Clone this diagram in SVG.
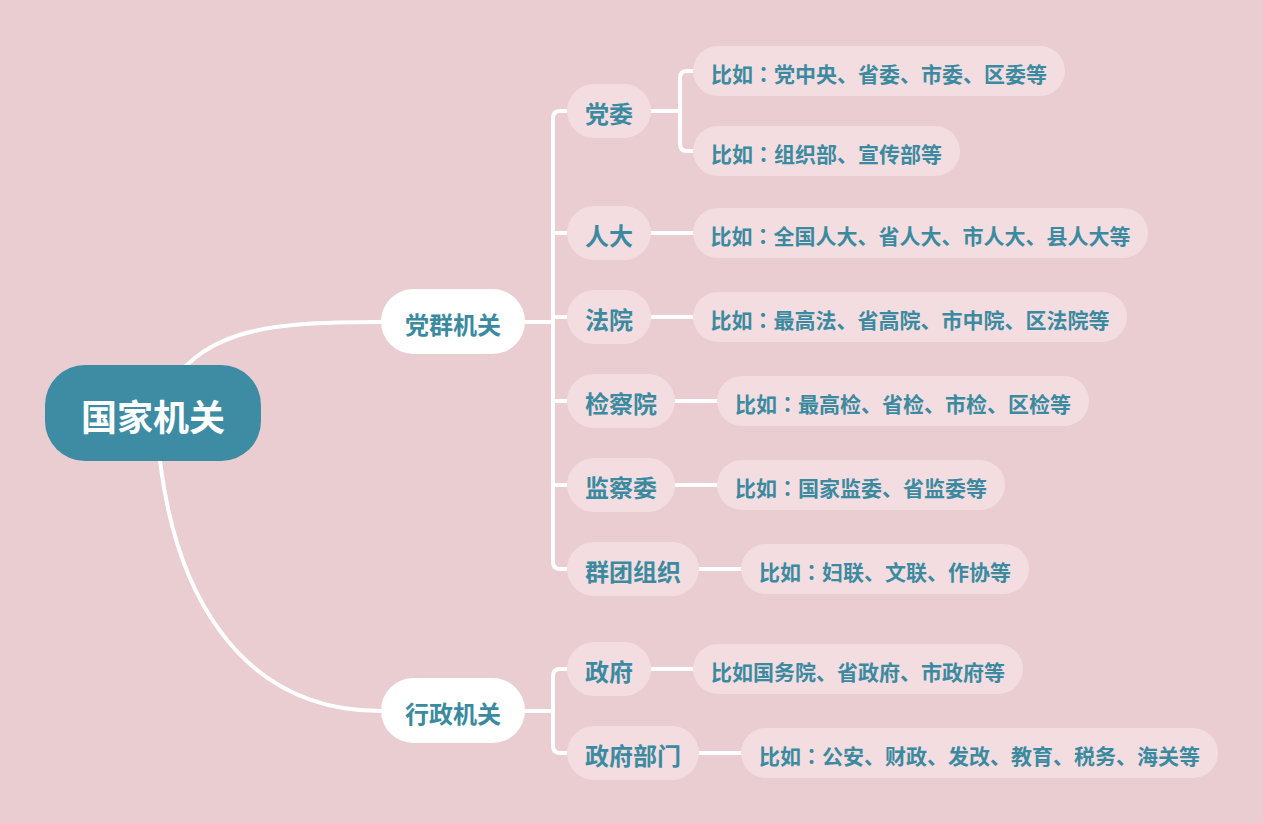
<svg xmlns="http://www.w3.org/2000/svg" width="1263" height="823" viewBox="0 0 1263 823">
<style>
text{font-family:"Noto Sans CJK SC","Noto Sans",sans-serif;font-weight:bold;text-anchor:middle;fill:#3b8aa0}
.p{font-family:"Noto Sans CJK JP","Noto Sans CJK SC",sans-serif}
.root{fill:#3d8ca3}
.rt{fill:#ffffff;font-size:36px}
.l1{fill:#ffffff}
.l1t{font-size:24px}
.l2{fill:#f4dde1}
.l2t{font-size:24px}
.lf{fill:#f4dde1}
.lft{font-size:21px}
.c{fill:none;stroke:#ffffff;stroke-width:4}
</style>
<rect width="1263" height="823" fill="#e9cdd1"/>
<g id="connectors">
<path class="c" d="M160,400 C200,330 260,322 381,322"/>
<path class="c" d="M156,413 C165,600 245,711 381,711"/>
<path class="c" d="M525,322 H553"/>
<path class="c" d="M567,111 H560 Q553,111 553,118 V562 Q553,569 560,569 H567"/>
<path class="c" d="M553,233 H567 M553,317 H567 M553,401 H567 M553,485 H567"/>
<path class="c" d="M525,711 H553"/>
<path class="c" d="M567,669 H560 Q553,669 553,676 V746 Q553,753 560,753 H567"/>
<path class="c" d="M651,111 H680"/>
<path class="c" d="M693,71 H687 Q680,71 680,78 V144 Q680,151 687,151 H693"/>
<path class="c" d="M651,233 H693 M651,317 H693 M675,401 H717 M675,485 H717 M699,569 H741 M651,669 H693 M699,753 H741"/>
</g>
<g id="root"><rect class="root" x="45" y="365" width="216" height="96" rx="40"/><text class="rt" x="153" y="431">国家机关</text></g>
<g id="dangqun"><rect class="l1" x="381" y="289" width="144" height="65" rx="32.5"/><text class="l1t" x="453" y="334">党群机关</text></g>
<g id="xingzheng"><rect class="l1" x="381" y="678" width="144" height="65" rx="32.5"/><text class="l1t" x="453" y="723">行政机关</text></g>
<g id="dangwei"><rect class="l2" x="567" y="84" width="84" height="54" rx="27"/><text class="l2t" x="609" y="123">党委</text></g>
<g id="renda"><rect class="l2" x="567" y="206" width="84" height="54" rx="27"/><text class="l2t" x="609" y="245">人大</text></g>
<g id="fayuan"><rect class="l2" x="567" y="290" width="84" height="54" rx="27"/><text class="l2t" x="609" y="329">法院</text></g>
<g id="jianchayuan"><rect class="l2" x="567" y="374" width="108" height="54" rx="27"/><text class="l2t" x="621" y="413">检察院</text></g>
<g id="jianchawei"><rect class="l2" x="567" y="458" width="108" height="54" rx="27"/><text class="l2t" x="621" y="497">监察委</text></g>
<g id="quntuan"><rect class="l2" x="567" y="542" width="132" height="54" rx="27"/><text class="l2t" x="633" y="581">群团组织</text></g>
<g id="zhengfu"><rect class="l2" x="567" y="642" width="84" height="54" rx="27"/><text class="l2t" x="609" y="681">政府</text></g>
<g id="zhengfubumen"><rect class="l2" x="567" y="726" width="132" height="54" rx="27"/><text class="l2t" x="633" y="765">政府部门</text></g>
<g id="leaf1"><rect class="lf" x="693" y="46" width="372" height="50" rx="25"/><text class="lft" x="879" y="82">比如<tspan class="p">：</tspan>党中央、省委、市委、区委等</text></g>
<g id="leaf2"><rect class="lf" x="693" y="126" width="267" height="50" rx="25"/><text class="lft" x="826.5" y="162">比如<tspan class="p">：</tspan>组织部、宣传部等</text></g>
<g id="leaf3"><rect class="lf" x="693" y="208" width="455" height="50" rx="25"/><text class="lft" x="920.5" y="244">比如<tspan class="p">：</tspan>全国人大、省人大、市人大、县人大等</text></g>
<g id="leaf4"><rect class="lf" x="693" y="292" width="434" height="50" rx="25"/><text class="lft" x="910" y="328">比如<tspan class="p">：</tspan>最高法、省高院、市中院、区法院等</text></g>
<g id="leaf5"><rect class="lf" x="717" y="376" width="372" height="50" rx="25"/><text class="lft" x="903" y="412">比如<tspan class="p">：</tspan>最高检、省检、市检、区检等</text></g>
<g id="leaf6"><rect class="lf" x="717" y="460" width="288" height="50" rx="25"/><text class="lft" x="861" y="496">比如<tspan class="p">：</tspan>国家监委、省监委等</text></g>
<g id="leaf7"><rect class="lf" x="741" y="544" width="288" height="50" rx="25"/><text class="lft" x="885" y="580">比如<tspan class="p">：</tspan>妇联、文联、作协等</text></g>
<g id="leaf8"><rect class="lf" x="693" y="644" width="330" height="50" rx="25"/><text class="lft" x="858" y="680">比如国务院、省政府、市政府等</text></g>
<g id="leaf9"><rect class="lf" x="741" y="728" width="477" height="50" rx="25"/><text class="lft" x="979.5" y="764">比如<tspan class="p">：</tspan>公安、财政、发改、教育、税务、海关等</text></g>
</svg>
